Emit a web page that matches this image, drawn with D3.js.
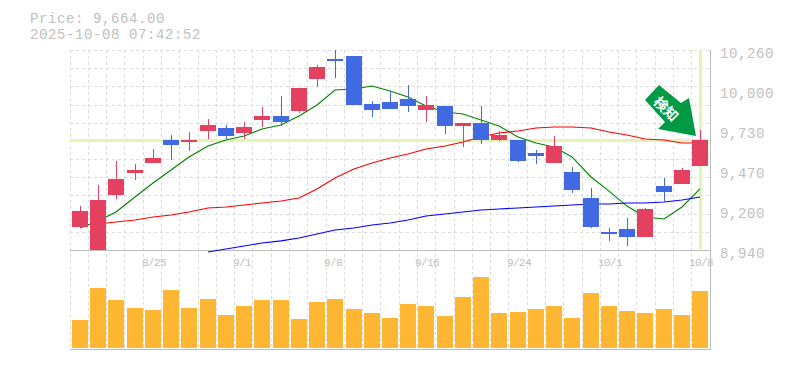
<!DOCTYPE html>
<html>
<head>
<meta charset="utf-8">
<script src="https://cdn.jsdelivr.net/npm/d3@7"></script>
<style>
  html, body { margin: 0; padding: 0; background: #fff; overflow: hidden; }
  svg { display: block; }
  text { font-family: "Liberation Mono", monospace; fill: #c0c0c0; }
</style>
</head>
<body>
<svg id="chart" width="785" height="370"></svg>
<script>
// Chart values
const dates = ["8/19","8/20","8/21","8/22","8/25","8/26","8/27","8/28","8/29","9/1","9/2","9/3","9/4","9/5","9/8","9/9","9/10","9/11","9/12","9/16","9/17","9/18","9/19","9/22","9/24","9/25","9/26","9/29","9/30","10/1","10/2","10/3","10/6","10/7","10/8"];
const opens  = [9092,8940,9303,9448,9514,9666,9653,9725,9745,9712,9798,9824,9857,10069,10201,10220,9904,9917,9937,9864,9890,9758,9778,9666,9666,9580,9514,9455,9283,9059,9079,9026,9362,9376,9494];
const closes = [9197,9270,9409,9468,9547,9633,9666,9765,9692,9752,9824,9785,10009,10148,10187,9897,9864,9871,9890,9897,9758,9778,9666,9699,9527,9560,9626,9336,9092,9046,9026,9211,9323,9468,9664];
const highs  = [9230,9369,9527,9508,9607,9699,9719,9805,9765,9785,9884,9956,10009,10161,10260,10220,9923,9989,10029,9956,9890,9778,9890,9725,9666,9600,9692,9488,9349,9085,9151,9217,9415,9481,9732];
const lows   = [9092,8940,9277,9402,9514,9534,9593,9673,9673,9673,9752,9758,9844,10016,10075,9897,9818,9871,9851,9785,9706,9620,9640,9659,9521,9508,9514,9316,9085,8999,8966,9026,9257,9376,9494];
const volumes = [28,60,48,40,38,58,40,49,33,42,48,48,29,46,49,39,35,30,44,42,32,51,71,35,36,39,42,30,55,42,37,35,39,33,57];
const maShort = [9085,9131,9191,9290,9382,9468,9554,9626,9666,9692,9739,9765,9824,9897,9996,10003,10022,9989,9950,9890,9851,9838,9798,9758,9686,9646,9620,9554,9422,9329,9230,9158,9145,9224,9343];
const maMid = [null,9112,9125,9138,9158,9171,9191,9217,9224,9237,9250,9263,9283,9343,9415,9475,9514,9547,9574,9607,9626,9653,9686,9712,9725,9745,9752,9752,9745,9719,9699,9673,9666,9646,9646];
const maLong = [null,null,null,null,null,null,null,8927,8947,8966,8986,9000,9019,9046,9072,9085,9105,9118,9138,9164,9178,9191,9204,9211,9217,9224,9230,9237,9244,9244,9250,9250,9257,9270,9290];
const priceTicks = [10260,10000,9730,9470,9200,8940];
const dateTicks = ["8/25","9/1","9/8","9/16","9/24","10/1","10/8"];
const lastPrice = 9664;
const stamp = "2025-10-08 07:42:52";
const signal = "検知";

const svg = d3.select("#chart");
const plotLeft = 70, plotRight = 710, plotTop = 50, plotMid = 250, plotBottom = 350;
const idx = d3.range(dates.length);

const x = d3.scalePoint().domain(idx).range([80, 700]);
const cx = i => Math.round(x(i));
const y = d3.scaleLinear().domain([8940, 10260]).range([plotMid, plotTop]);
const yVol = d3.scaleLinear().domain([0, 100]).range([plotBottom - 2, plotMid - 2]);

svg.append("defs").append("clipPath").attr("id", "price-clip")
    .append("rect").attr("x", plotLeft).attr("y", plotTop).attr("width", plotRight - plotLeft).attr("height", plotMid - plotTop);

// Grid
const grid = svg.append("g").attr("stroke", "#dcdcdc").attr("stroke-dasharray", "3,3").attr("shape-rendering", "crispEdges");
idx.forEach(i => {
    const gx = Math.floor(plotLeft + i * (plotRight - plotLeft) / dates.length);
    grid.append("line").attr("x1", gx + 0.5).attr("x2", gx + 0.5).attr("y1", plotTop).attr("y2", plotBottom);
});
d3.range(0, 11).forEach(i => {
    const gy = Math.round(plotTop + i * (plotMid - plotTop) / 11);
    grid.append("line").attr("x1", plotLeft).attr("x2", plotRight).attr("y1", gy + 0.5).attr("y2", gy + 0.5);
});

// Frame
const frame = svg.append("g").attr("stroke", "#bdbdbd").attr("shape-rendering", "crispEdges");
frame.append("line").attr("x1", plotLeft).attr("x2", plotRight).attr("y1", plotMid + 0.5).attr("y2", plotMid + 0.5);
frame.append("line").attr("x1", plotLeft).attr("x2", plotRight + 1).attr("y1", plotBottom - 0.5).attr("y2", plotBottom - 0.5);
frame.append("line").attr("x1", plotRight + 0.5).attr("x2", plotRight + 0.5).attr("y1", plotTop).attr("y2", plotBottom);

// Current price cross
const cross = svg.append("g").attr("stroke", "#e6f5ae").attr("stroke-width", 3).attr("shape-rendering", "crispEdges");
cross.append("line").attr("x1", plotLeft).attr("x2", plotRight).attr("y1", y(lastPrice)).attr("y2", y(lastPrice));
cross.append("line").attr("x1", cx(dates.length - 1) + 0.5).attr("x2", cx(dates.length - 1) + 0.5).attr("y1", plotTop).attr("y2", plotMid - 1);

// Moving averages
const maColors = [[maShort, "#008000"], [maMid, "#ff0000"], [maLong, "#0000ff"]];
maColors.forEach(([vals, color]) => {
    const line = d3.line().defined(d => d != null).x((d, i) => cx(i)).y(d => y(d));
    svg.append("path").attr("d", line(vals)).attr("fill", "none").attr("stroke", color).attr("stroke-width", 1.1);
});

// Candles
const candles = svg.append("g").attr("clip-path", "url(#price-clip)").attr("shape-rendering", "crispEdges");
const upColor = "#e4405f", downColor = "#4169e1";
idx.forEach(i => {
    const color = closes[i] >= opens[i] ? upColor : downColor;
    candles.append("line").attr("x1", cx(i) + 0.5).attr("x2", cx(i) + 0.5)
        .attr("y1", y(highs[i])).attr("y2", y(lows[i])).attr("stroke", color);
    const yTop = y(Math.max(opens[i], closes[i])), yBot = y(Math.min(opens[i], closes[i]));
    candles.append("rect").attr("x", cx(i) - 8).attr("width", 16)
        .attr("y", yTop).attr("height", Math.max(yBot - yTop, 2)).attr("fill", color);
});

// Volume
svg.append("g").attr("fill", "#ffb733").attr("shape-rendering", "crispEdges")
    .selectAll("rect").data(volumes).enter().append("rect")
    .attr("x", (d, i) => cx(i) - 8).attr("width", 16)
    .attr("y", d => yVol(d)).attr("height", d => yVol(0) - yVol(d));

// Signal arrow, placed from the tip above the last candle
const tipX = cx(dates.length - 1) - 4, tipY = y(highs[dates.length - 1]) + 6;
const arrow = svg.append("g").attr("transform", `translate(${tipX},${tipY})`);
arrow.append("path").attr("fill", "#009944")
    .attr("d", "M0,0L-7,-38L-15,-33L-37,-51L-51,-36L-31,-14L-38,-7Z");
arrow.append("text").attr("transform", "translate(-30,-27) rotate(45)")
    .attr("text-anchor", "middle").attr("dy", "0.36em")
    .style("font-family", "'Noto Sans CJK JP'").style("font-size", "14px").style("font-weight", "700").style("fill", "#fff")
    .text(signal);

// Axis labels
svg.append("g").selectAll("text").data(priceTicks).enter().append("text")
    .attr("x", 720).attr("y", (d, i) => plotTop + i * 40 + 8)
    .style("font-size", "14px").style("letter-spacing", "0.6px")
    .text(d => d3.format(",")(d));
svg.append("g").selectAll("text").data(dateTicks).enter().append("text")
    .attr("x", d => cx(dates.indexOf(d)) - 11).attr("y", 266)
    .style("font-size", "11px").style("letter-spacing", "-0.6px")
    .text(d => d);

// Header
svg.append("text").attr("x", 30).attr("y", 22.5).style("font-size", "14px").style("letter-spacing", "0.6px")
    .text("Price: " + d3.format(",.2f")(lastPrice));
svg.append("text").attr("x", 30).attr("y", 38.5).style("font-size", "14px").style("letter-spacing", "0.6px")
    .text(stamp);
</script>
</body>
</html>
